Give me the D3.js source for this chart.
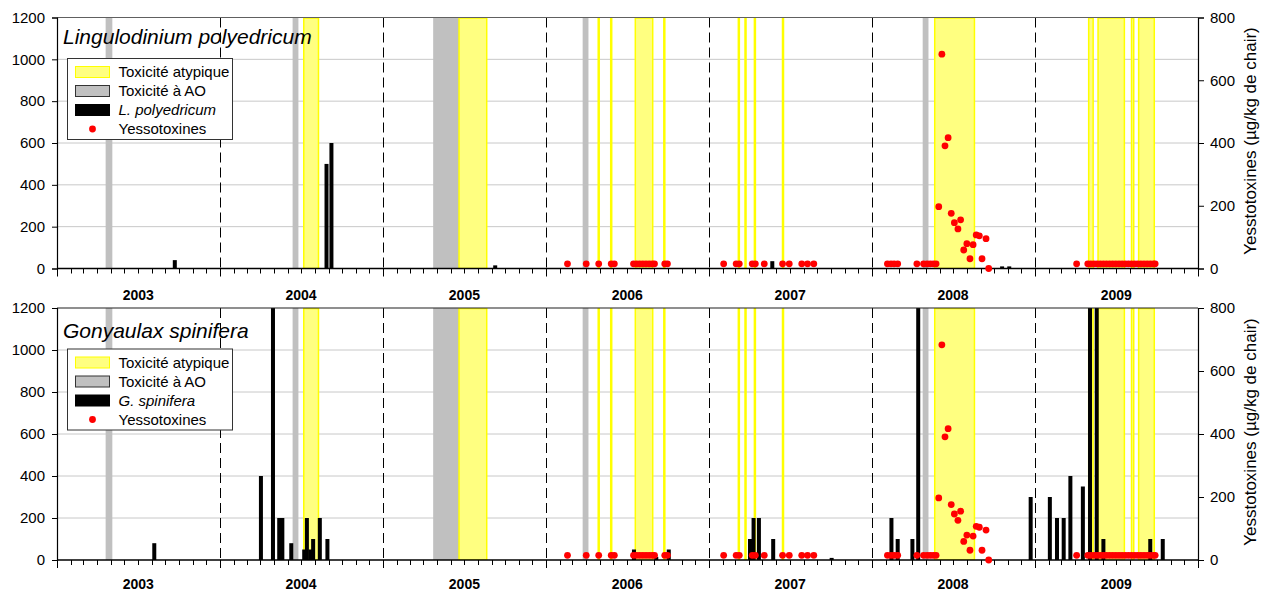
<!DOCTYPE html>
<html>
<head>
<meta charset="utf-8">
<script src="https://cdn.jsdelivr.net/npm/d3@7"></script>
<style>
  html, body { margin: 0; padding: 0; background: #fff; }
  svg { display: block; font-family: "Liberation Sans", Arial, sans-serif; }
</style>
</head>
<body>
<svg id="chart" width="1273" height="593"></svg>
<script>
// Periods of toxicity attributed to okadaic acid (grey)
const aoPeriods = [
  ["2003-04-20", "2003-05-05"],
  ["2004-06-12", "2004-06-25"],
  ["2005-04-23", "2005-06-20"],
  ["2006-03-24", "2006-04-06"],
  ["2008-04-24", "2008-05-07"]
];

// Periods of atypical toxicity (yellow); single-day tests show as thin lines
const atypicalPeriods = [
  ["2004-07-07", "2004-08-09"],
  ["2005-06-20", "2005-08-21"],
  ["2006-04-29", "2006-04-29"],
  ["2006-05-27", "2006-05-27"],
  ["2006-07-20", "2006-08-28"],
  ["2006-09-23", "2006-09-23"],
  ["2007-03-09", "2007-03-09"],
  ["2007-03-24", "2007-03-24"],
  ["2007-04-14", "2007-04-14"],
  ["2007-06-16", "2007-06-16"],
  ["2008-05-21", "2008-08-18"],
  ["2009-05-01", "2009-05-11"],
  ["2009-05-22", "2009-07-20"],
  ["2009-08-05", "2009-08-10"],
  ["2009-08-21", "2009-09-25"]
];

// Lingulodinium polyedricum cell counts
const lpDates = ["2003-09-22", "2004-08-27", "2004-09-07", "2005-09-09", "2007-05-23", "2008-10-19", "2008-11-04"];
const lpCounts = [40, 500, 600, 15, 35, 10, 10];

// Gonyaulax spinifera cell counts
const gsDates = [
  "2003-08-07",
  "2004-04-02", "2004-04-29", "2004-05-13", "2004-05-20", "2004-06-09", "2004-07-08",
  "2004-07-14", "2004-07-22", "2004-07-28", "2004-08-12", "2004-08-29",
  "2006-07-17", "2006-09-05", "2006-10-03",
  "2007-04-03", "2007-04-11", "2007-04-23", "2007-05-25", "2007-10-03",
  "2008-02-14", "2008-02-28", "2008-04-01", "2008-04-14", "2008-12-22",
  "2009-02-03", "2009-02-19", "2009-03-06", "2009-03-21", "2009-04-18",
  "2009-05-04", "2009-05-19", "2009-06-03", "2009-09-16", "2009-10-14"
];
const gsCounts = [
  80,
  400, 1200, 200, 200, 80, 50,
  200, 50, 100, 200, 100,
  50, 15, 50,
  100, 200, 200, 100, 10,
  200, 100, 100, 1200, 300,
  300, 200, 200, 400, 350,
  1200, 1200, 100, 100, 100
];

// Yessotoxin concentrations in shellfish (µg/kg)
const ytxDates = [
  "2006-02-18", "2006-04-01", "2006-04-29", "2006-05-27", "2006-06-03",
  "2006-07-16", "2006-07-23", "2006-07-30", "2006-08-06", "2006-08-13",
  "2006-08-20", "2006-08-27", "2006-09-01", "2006-09-24", "2006-09-30",
  "2007-02-03", "2007-03-03", "2007-03-10", "2007-04-08", "2007-04-15",
  "2007-05-05", "2007-06-15", "2007-06-30", "2007-07-28", "2007-08-10", "2007-08-24",
  "2008-02-05", "2008-02-13", "2008-02-20", "2008-02-28", "2008-04-11",
  "2008-04-26", "2008-05-04", "2008-05-11", "2008-05-18", "2008-05-24",
  "2008-05-30", "2008-06-06", "2008-06-13", "2008-06-20", "2008-06-27",
  "2008-07-04", "2008-07-12", "2008-07-18", "2008-07-25", "2008-08-01",
  "2008-08-08", "2008-08-15", "2008-08-22", "2008-08-29", "2008-09-04",
  "2008-09-13", "2008-09-19",
  "2009-04-04", "2009-04-29", "2009-05-06", "2009-05-13", "2009-05-20",
  "2009-05-27", "2009-06-03", "2009-06-10", "2009-06-17", "2009-06-24",
  "2009-07-01", "2009-07-08", "2009-07-15", "2009-07-22", "2009-07-29",
  "2009-08-05", "2009-08-12", "2009-08-19", "2009-08-26", "2009-09-02",
  "2009-09-09", "2009-09-16", "2009-09-23", "2009-09-27"
];
const ytxValues = [
  15, 15, 15, 15, 15,
  15, 15, 15, 15, 15,
  15, 15, 15, 15, 15,
  15, 15, 15, 15, 15,
  15, 15, 15, 15, 15, 15,
  15, 15, 15, 15, 15,
  15, 15, 15, 15, 15,
  197, 683, 391, 417, 176,
  146, 126, 155, 59, 79,
  31, 76, 107, 104, 31,
  95, 0,
  15, 15, 15, 15, 15,
  15, 15, 15, 15, 15,
  15, 15, 15, 15, 15,
  15, 15, 15, 15, 15,
  15, 15, 15, 15
];

const years = ["2003", "2004", "2005", "2006", "2007", "2008", "2009"];
const cellTicks = [0, 200, 400, 600, 800, 1000, 1200];
const ytxTicks = [0, 200, 400, 600, 800];

const legendLabels = ["Toxicité atypique", "Toxicité à AO", null, "Yessotoxines"];
const ytxAxisTitle = "Yesstotoxines (µg/kg de chair)";

// ---------------------------------------------------------------------------
const parse = d3.utcParse("%Y-%m-%d");
const svg = d3.select("#chart");

const x = d3.scaleUtc()
  .domain([parse("2003-01-01"), parse("2010-01-01")])
  .range([57, 1198]);

const panels = [
  { top: 17.5, bottom: 268.5, title: "Lingulodinium polyedricum", titleY: 44,
    species: "L. polyedricum", dates: lpDates, counts: lpCounts, yearY: 300, frame: "#606060" },
  { top: 308, bottom: 560, title: "Gonyaulax spinifera", titleY: 338,
    species: "G. spinifera", dates: gsDates, counts: gsCounts, yearY: 589, frame: "#202020" }
];

const ytx = ytxDates.map((d, i) => ({ date: parse(d), value: ytxValues[i] }));
const months = d3.utcMonth.range(parse("2003-01-01"), parse("2010-01-02"));
const yearStarts = d3.utcYear.range(parse("2003-01-01"), parse("2010-01-02"));
const [x0, x1] = x.range();

panels.forEach((p, pi) => {
  const g = svg.append("g");
  const yCells = d3.scaleLinear().domain([0, 1200]).range([p.bottom, p.top]);
  const yTox = d3.scaleLinear().domain([0, 800]).range([p.bottom, p.top]);

  const clipId = "clip" + pi;
  svg.append("clipPath").attr("id", clipId)
    .append("rect").attr("x", x0).attr("y", p.top).attr("width", x1 - x0).attr("height", p.bottom - p.top);

  // horizontal gridlines
  g.selectAll(".grid").data(cellTicks.filter(v => v > 0 && v < 1200)).join("line")
    .attr("x1", x0).attr("x2", x1)
    .attr("y1", d => yCells(d)).attr("y2", d => yCells(d))
    .attr("stroke", "#c8c8c8").attr("stroke-width", 1);

  // dashed separators between years
  g.selectAll(".sep").data(yearStarts.slice(1, -1)).join("line")
    .attr("x1", d => Math.round(x(d)) + 0.5).attr("x2", d => Math.round(x(d)) + 0.5)
    .attr("y1", p.top).attr("y2", p.bottom)
    .attr("stroke", "#000").attr("stroke-width", 1).attr("stroke-dasharray", "10,5");

  const plot = g.append("g").attr("clip-path", `url(#${clipId})`);

  // okadaic acid toxicity periods
  plot.selectAll(".ao").data(aoPeriods).join("rect")
    .attr("x", d => x(parse(d[0])))
    .attr("width", d => Math.max(1, x(parse(d[1])) - x(parse(d[0]))))
    .attr("y", p.top).attr("height", p.bottom - p.top)
    .attr("fill", "#c0c0c0");

  // atypical toxicity periods
  plot.selectAll(".atyp").data(atypicalPeriods).join("rect")
    .attr("x", d => x(parse(d[0])) - (d[0] === d[1] ? 0.5 : 0))
    .attr("width", d => Math.max(1, x(parse(d[1])) - x(parse(d[0]))))
    .attr("y", p.top + 0.5).attr("height", p.bottom - p.top - 0.5)
    .attr("fill", "#ffff80").attr("stroke", "#ffff00").attr("stroke-width", 1.5);

  // cell-count bars
  const barW = 4;
  plot.selectAll(".bar").data(p.dates.map((d, i) => ({ date: parse(d), v: p.counts[i] }))).join("rect")
    .attr("x", d => x(d.date) - barW / 2).attr("width", barW)
    .attr("y", d => yCells(d.v)).attr("height", d => p.bottom - yCells(d.v))
    .attr("fill", "#000");

  // top frame
  g.append("line").attr("x1", x0).attr("x2", x1).attr("y1", p.top).attr("y2", p.top)
    .attr("stroke", p.frame).attr("stroke-width", 1.2);

  // time axis: baseline, month ticks, year ticks
  g.append("line").attr("x1", x0).attr("x2", x1).attr("y1", p.bottom).attr("y2", p.bottom)
    .attr("stroke", "#000").attr("stroke-width", 1.3);
  g.selectAll(".mtick").data(months).join("line")
    .attr("x1", d => Math.round(x(d)) + 0.5).attr("x2", d => Math.round(x(d)) + 0.5)
    .attr("y1", p.bottom).attr("y2", d => p.bottom + (d.getUTCMonth() === 0 ? 8 : 5))
    .attr("stroke", "#000").attr("stroke-width", 1);

  g.selectAll(".year").data(years).join("text")
    .attr("x", d => x(d3.utcDay.offset(parse(d + "-01-01"), 182)))
    .attr("y", p.yearY)
    .attr("text-anchor", "middle")
    .attr("font-size", 14).attr("font-weight", "bold").attr("fill", "#000")
    .text(d => d);

  // left axis (cell counts)
  const la = g.append("g").attr("transform", `translate(${x0},0)`)
    .call(d3.axisLeft(yCells).tickValues(cellTicks).tickSize(5).tickPadding(7).tickFormat(d3.format("d")));
  la.select(".domain").attr("stroke", "#000").attr("stroke-width", 1.2);
  la.selectAll("text").attr("font-size", 15).attr("font-family", "Liberation Sans, Arial, sans-serif").attr("fill", "#000");

  // right axis (yessotoxins)
  const ra = g.append("g").attr("transform", `translate(${x1},0)`)
    .call(d3.axisRight(yTox).tickValues(ytxTicks).tickSize(6).tickPadding(6).tickFormat(d3.format("d")));
  ra.select(".domain").attr("stroke", "#000").attr("stroke-width", 1.2);
  ra.selectAll("text").attr("font-size", 15).attr("font-family", "Liberation Sans, Arial, sans-serif").attr("fill", "#000");

  g.append("text")
    .attr("transform", `translate(1256,${(p.top + p.bottom) / 2 - 2}) rotate(-90)`)
    .attr("text-anchor", "middle")
    .attr("font-size", 17).attr("fill", "#000")
    .text(ytxAxisTitle);

  // yessotoxin measurements
  g.selectAll(".ytx").data(ytx).join("circle")
    .attr("cx", d => x(d.date)).attr("cy", d => yTox(d.value))
    .attr("r", 3.4).attr("fill", "#ff0000");

  // panel title
  g.append("text").attr("x", 63).attr("y", p.titleY)
    .attr("font-size", 21).attr("font-style", "italic").attr("fill", "#000")
    .text(p.title);

  // legend
  const lg = g.append("g").attr("transform", `translate(67.5,${p.top + 41})`);
  lg.append("rect").attr("x", 0).attr("y", 0).attr("width", 165).attr("height", 81)
    .attr("fill", "#fff").attr("stroke", "#333").attr("stroke-width", 1);
  const swatches = [
    { fill: "#ffff80", stroke: "#ffff00" },
    { fill: "#c0c0c0", stroke: "#333" },
    { fill: "#000", stroke: "#000" },
    null
  ];
  legendLabels.forEach((lab, i) => {
    const cy = 13.5 + i * 19;
    if (swatches[i]) {
      lg.append("rect").attr("x", 8).attr("y", cy - 5.5).attr("width", 34).attr("height", 11)
        .attr("fill", swatches[i].fill).attr("stroke", swatches[i].stroke).attr("stroke-width", 1);
    } else {
      lg.append("circle").attr("cx", 25).attr("cy", cy).attr("r", 3.4).attr("fill", "#ff0000");
    }
    lg.append("text").attr("x", 51).attr("y", cy + 5.3)
      .attr("font-size", 15).attr("fill", "#000")
      .attr("font-style", lab === null ? "italic" : "normal")
      .text(lab === null ? p.species : lab);
  });
});
</script>
</body>
</html>
